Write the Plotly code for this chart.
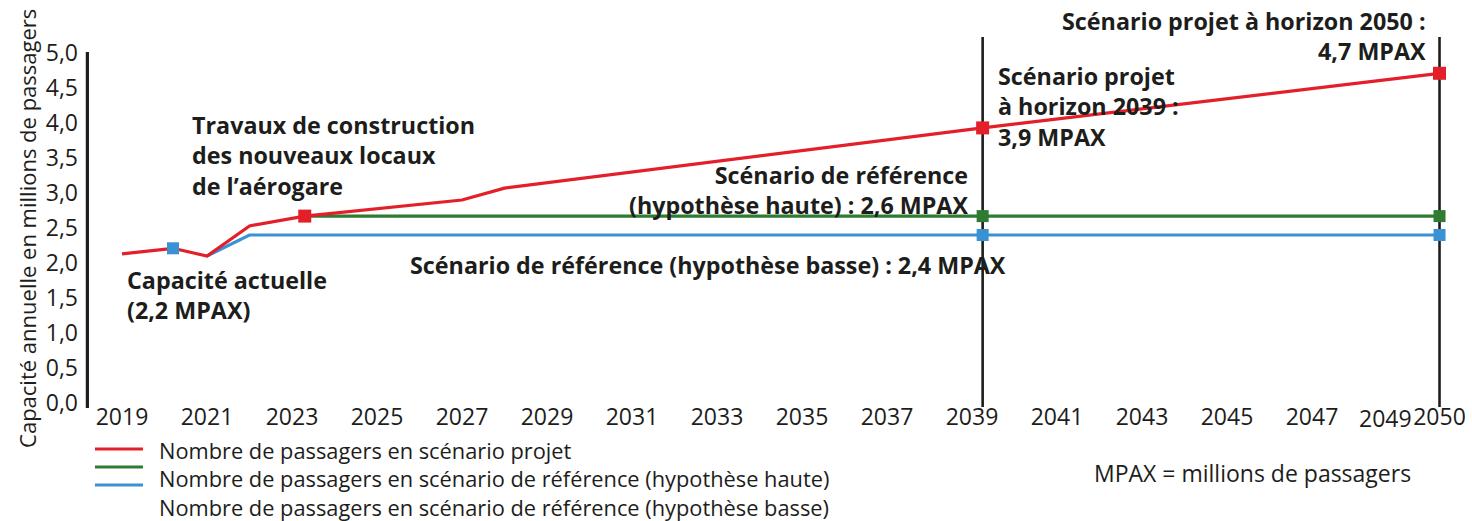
import plotly.graph_objects as go

# ---- data ----
red_years = [2019, 2020.2, 2021, 2022, 2023.3, 2027, 2028, 2039.25, 2050]
red_vals = [2.13, 2.21, 2.10, 2.53, 2.67, 2.90, 3.07, 3.93, 4.71]

green_years = [2023.3, 2039.25, 2050]
green_vals = [2.67, 2.67, 2.67]

blue_years = [2021, 2022, 2039.25, 2050]
blue_vals = [2.10, 2.40, 2.40, 2.40]

red_marker_years = [2023.3, 2039.25, 2050]
red_marker_vals = [2.67, 3.93, 4.71]
green_marker_years = [2039.25, 2050]
green_marker_vals = [2.67, 2.67]
blue_marker_years = [2020.2, 2039.25, 2050]
blue_marker_vals = [2.21, 2.40, 2.40]

horizon_years = [2039.25, 2050]

x_tick_vals = list(range(2019, 2050, 2)) + [2050]
x_tick_text = [str(v) for v in x_tick_vals]
squeezed_tick = 2049          # label drawn slightly to the left, as in the reference
y_tick_vals = [i * 0.5 for i in range(11)]

legend_labels = [
    "Nombre de passagers en scénario projet",
    "Nombre de passagers en scénario de référence (hypothèse haute)",
    "Nombre de passagers en scénario de référence (hypothèse basse)",
]

RED = "#e3202a"
GREEN = "#2e7b31"
BLUE = "#3892d3"
INK = "#1d1d1b"
FONT = "Open Sans"

axis_ticks_text = ["" if v == squeezed_tick else t for v, t in zip(x_tick_vals, x_tick_text)]

fig = go.Figure()
fig.add_trace(go.Scatter(x=green_years, y=green_vals, mode="lines",
                         line=dict(color=GREEN, width=3.2), showlegend=False))
fig.add_trace(go.Scatter(x=blue_years, y=blue_vals, mode="lines",
                         line=dict(color=BLUE, width=3.2), showlegend=False))
fig.add_trace(go.Scatter(x=red_years, y=red_vals, mode="lines",
                         line=dict(color=RED, width=3.2), showlegend=False))
fig.add_trace(go.Scatter(x=green_marker_years, y=green_marker_vals, mode="markers",
                         marker=dict(symbol="square", size=12, color=GREEN), showlegend=False))
fig.add_trace(go.Scatter(x=blue_marker_years, y=blue_marker_vals, mode="markers",
                         marker=dict(symbol="square", size=12, color=BLUE), showlegend=False))
fig.add_trace(go.Scatter(x=red_marker_years, y=red_marker_vals, mode="markers",
                         marker=dict(symbol="square", size=13, color=RED), showlegend=False))

shapes = []
# y axis line
shapes.append(dict(type="line", xref="paper", yref="y", x0=0.001, x1=0.001, y0=-0.07, y1=5.015,
                   line=dict(color=INK, width=3.2)))
# horizon lines
for yr in horizon_years:
    shapes.append(dict(type="line", xref="x", yref="paper", x0=yr, x1=yr, y0=0.008, y1=1.0,
                       line=dict(color=INK, width=2.6), layer="below"))
# legend samples
for ly, col in zip([-0.1046, -0.1528, -0.2011], [RED, GREEN, BLUE]):
    shapes.append(dict(type="line", xref="paper", yref="paper", x0=0.0065, x1=0.0414,
                       y0=ly, y1=ly, line=dict(color=col, width=3.2)))

bold = dict(family=FONT, size=23.3, color=INK)
reg = dict(family=FONT, size=21.8, color=INK)
annotations = [
    dict(text="<b>Travaux de construction<br>des nouveaux locaux<br>de l’aérogare</b>",
         x=2020.60, y=3.53, xref="x", yref="y", xanchor="left", yanchor="middle", align="left",
         showarrow=False, font=bold),
    dict(text="<b>Capacité actuelle<br>(2,2 MPAX)</b>",
         x=2019.07, y=1.536, xref="x", yref="y", xanchor="left", yanchor="middle", align="left",
         showarrow=False, font=bold),
    dict(text="<b>Scénario de référence<br>(hypothèse haute) : 2,6 MPAX</b>",
         x=2038.95, y=3.036, xref="x", yref="y", xanchor="right", yanchor="middle", align="right",
         showarrow=False, font=bold),
    dict(text="<b>Scénario de référence (hypothèse basse) : 2,4 MPAX</b>",
         x=2032.78, y=1.971, xref="x", yref="y", xanchor="center", yanchor="middle",
         showarrow=False, font=bold),
    dict(text="<b>Scénario projet<br>à horizon 2039 :<br>3,9 MPAX</b>",
         x=2039.56, y=4.229, xref="x", yref="y", xanchor="left", yanchor="middle", align="left",
         showarrow=False, font=bold),
    dict(text="<b>Scénario projet à horizon 2050 :<br>4,7 MPAX</b>",
         x=0.9753, y=1.0027, xref="paper", yref="paper", xanchor="right", yanchor="middle", align="right",
         showarrow=False, font=bold),
    dict(text="MPAX = millions de passagers",
         x=0.7311, y=-0.1689, xref="paper", yref="paper", xanchor="left", yanchor="middle",
         showarrow=False, font=dict(family=FONT, size=23, color=INK)),
    dict(text="Capacité annuelle en millions de passagers",
         x=-0.0429, y=0.488, xref="paper", yref="paper", xanchor="center", yanchor="middle",
         textangle=-90, showarrow=False, font=dict(family=FONT, size=22, color=INK)),
    dict(text="<br>".join(legend_labels), x=0.0516, y=-0.1855, xref="paper", yref="paper",
         xanchor="left", yanchor="middle", align="left", showarrow=False, font=reg),
    dict(text=str(squeezed_tick), x=squeezed_tick, xref="x", y=-0.0215, yref="paper",
         xanchor="center", yanchor="middle", xshift=-12, showarrow=False,
         font=dict(family=FONT, size=23, color=INK)),
]

fig.update_layout(
    width=1472, height=521,
    margin=dict(l=86, r=10, t=37, b=111, autoexpand=False),
    paper_bgcolor="white", plot_bgcolor="white",
    separators=", ",
    shapes=shapes, annotations=annotations,
    showlegend=False,
    xaxis=dict(range=[2018.153, 2050.529], tickvals=x_tick_vals, ticktext=axis_ticks_text,
               showgrid=False, zeroline=False, showline=False, ticks="", tickangle=0,
               automargin=False,
               tickfont=dict(family=FONT, size=23, color=INK), ticklabelstandoff=-9),
    yaxis=dict(range=[-0.1, 5.2286], tickvals=y_tick_vals, tickformat=".1f",
               showgrid=False, zeroline=False, showline=False, ticks="", automargin=False,
               tickfont=dict(family=FONT, size=23, color=INK), ticklabelstandoff=7),
)

fig.write_html("out.html", config={"displayModeBar": False},
               post_script="document.body.style.margin='0px';")
